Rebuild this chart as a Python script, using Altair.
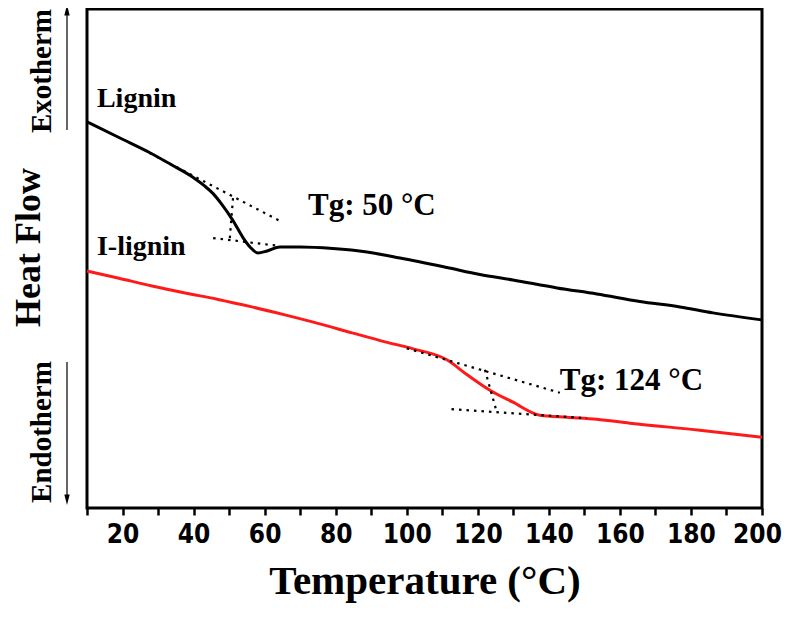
import altair as alt
import pandas as pd

# ---- data (temperature in °C, heat flow in arbitrary units) ----
lignin_T = [10, 20, 27.7, 33.5, 39.8, 43.0, 45.5, 48.0, 51.1, 53.9, 55.9, 58.1, 60.7, 64.3,
            70.0, 79.2, 88.8, 98.1, 111.3, 120.6, 129.9, 142.3, 153.5, 165.6, 176.9, 186.2, 200]
lignin_hf = [77.4, 73.9, 71.2, 68.9, 66.3, 64.6, 63.0, 60.8, 57.6, 54.2, 52.3, 51.1, 51.5, 52.3,
             52.3, 52.0, 51.3, 50.1, 48.2, 46.8, 45.7, 44.1, 42.9, 41.4, 40.3, 39.1, 37.7]

ilignin_T = [10, 18.7, 28.3, 37.6, 46.9, 56.4, 65.7, 75.0, 84.6, 93.9, 101.8, 111.3, 117.0,
             123.4, 129.9, 137.5, 145.1, 153.5, 162.8, 182.5, 200]
ilignin_hf = [47.5, 46.1, 44.5, 43.1, 41.8, 40.3, 38.7, 37.0, 35.1, 33.3, 31.9, 29.7, 26.7,
              23.6, 21.2, 18.6, 18.2, 17.8, 17.0, 15.6, 14.2]

# tangent construction lines (start/end of each segment)
tangent_seg = ["L_up", "L_up", "L_low", "L_low", "L_v", "L_v",
               "I_up", "I_up", "I_low", "I_low", "I_v", "I_v"]
tangent_T = [27.7, 64.9, 45.5, 64.3, 51.1, 50.2,
             100.0, 143.1, 112.6, 150.6, 122.0, 125.3]
tangent_hf = [71.1, 57.3, 54.1, 52.5, 62.1, 54.1,
              32.0, 23.1, 19.8, 18.0, 27.7, 19.3]

series_labels = ["Lignin", "I-lignin"]
series_label_T = [12.8, 12.8]
series_label_hf = [80.4, 50.7]

tg_labels = ["Tg: 50 °C", "Tg: 124 °C"]
tg_label_T = [72.2, 143.1]
tg_label_hf = [58.7, 23.6]

x_ticks = list(range(10, 201, 10))

# ---- tables ----
curves = pd.DataFrame({
    "T": lignin_T + ilignin_T,
    "HF": lignin_hf + ilignin_hf,
    "series": ["Lignin"] * len(lignin_T) + ["I-lignin"] * len(ilignin_T),
})
tangents = pd.DataFrame({"T": tangent_T, "HF": tangent_hf, "seg": tangent_seg})
slabels = pd.DataFrame({"T": series_label_T, "HF": series_label_hf, "label": series_labels})
tlabels = pd.DataFrame({"T": tg_label_T, "HF": tg_label_hf, "label": tg_labels})
one = pd.DataFrame({"k": [0]})

SERIF = "Liberation Serif"
NARROW = "Liberation Sans Narrow, Arial Narrow, DejaVu Sans Condensed, Liberation Sans"

x_axis = alt.Axis(
    values=x_ticks,
    labelExpr="datum.value % 20 == 0 ? datum.label : ''",
    domain=False, grid=False,
    ticks=True, tickColor="black", tickWidth=2.5, tickSize=7,
    labelFont=NARROW, labelFontSize=26, labelFontWeight="bold", labelColor="black",
    labelPadding=6, labelFlush=False, labelOverlap=False,
    labelOffset={"condition": {"test": "datum.value == 200", "value": -5}, "value": 0},
    title="Temperature (°C)", titleFont=SERIF, titleFontSize=41, titleFontWeight="bold",
    titleColor="black", titlePadding=14,
)
y_axis = alt.Axis(
    labels=False, ticks=False, domain=False, grid=False,
    title="Heat Flow", titleFont=SERIF, titleFontSize=36, titleFontWeight="bold",
    titleColor="black", titleAngle=270, titleX=-59, titleY=238,
    titleAlign="center", titleBaseline="middle",
)
X = alt.X("T:Q", scale=alt.Scale(domain=[10, 200], nice=False, zero=False), axis=x_axis)
Y = alt.Y("HF:Q", scale=alt.Scale(domain=[0, 100], nice=False, zero=False), axis=y_axis)

lines = alt.Chart(curves).mark_line(strokeWidth=3, interpolate="monotone").encode(
    x=X, y=Y,
    color=alt.Color("series:N", scale=alt.Scale(domain=["Lignin", "I-lignin"],
                                                range=["#000000", "#ff1a1a"]), legend=None),
)

tangent_lines = alt.Chart(tangents).mark_line(
    strokeDash=[2.5, 5], strokeWidth=2.2, color="black"
).encode(x=X, y=Y, detail="seg:N")

series_text = alt.Chart(slabels).mark_text(
    align="left", baseline="alphabetic", font=SERIF, fontWeight="bold", fontSize=28, color="black"
).encode(x=X, y=Y, text="label:N")

tg_text = alt.Chart(tlabels).mark_text(
    align="left", baseline="alphabetic", font=SERIF, fontWeight="bold", fontSize=31, color="black"
).encode(x=X, y=Y, text="label:N")

# Exotherm / Endotherm side annotations
exo_text = alt.Chart(one).mark_text(
    text="Exotherm", angle=270, font=SERIF, fontWeight="bold", fontSize=29,
    align="center", baseline="middle", color="black"
).encode(x=alt.value(-45), y=alt.value(62))
endo_text = alt.Chart(one).mark_text(
    text="Endotherm", angle=270, font=SERIF, fontWeight="bold", fontSize=29,
    align="center", baseline="middle", color="black"
).encode(x=alt.value(-45), y=alt.value(423))

exo_rule = alt.Chart(one).mark_rule(color="#333333", strokeWidth=1.5).encode(
    x=alt.value(-20), y=alt.value(2), y2=alt.value(121))
endo_rule = alt.Chart(one).mark_rule(color="#333333", strokeWidth=1.5).encode(
    x=alt.value(-20), y=alt.value(353), y2=alt.value(488))
exo_head = alt.Chart(one).mark_point(
    shape="M0,-1L0.38,0.5L-0.38,0.5Z", filled=True, color="black", size=200, opacity=1
).encode(x=alt.value(-20), y=alt.value(3))
endo_head = alt.Chart(one).mark_point(
    shape="M0,1L0.38,-0.5L-0.38,-0.5Z", filled=True, color="black", size=200, opacity=1
).encode(x=alt.value(-20), y=alt.value(489))

chart = alt.layer(
    lines, tangent_lines, series_text, tg_text,
    exo_text, endo_text, exo_rule, endo_rule, exo_head, endo_head,
).properties(
    width=675, height=499,
    autosize=alt.AutoSizeParams(type="none"),
    padding={"left": 79, "top": 1, "right": 21, "bottom": 100},
    background="white",
).configure_view(stroke="black", strokeWidth=3)

chart.save("out.html", embed_options={"renderer": "svg", "actions": False})
